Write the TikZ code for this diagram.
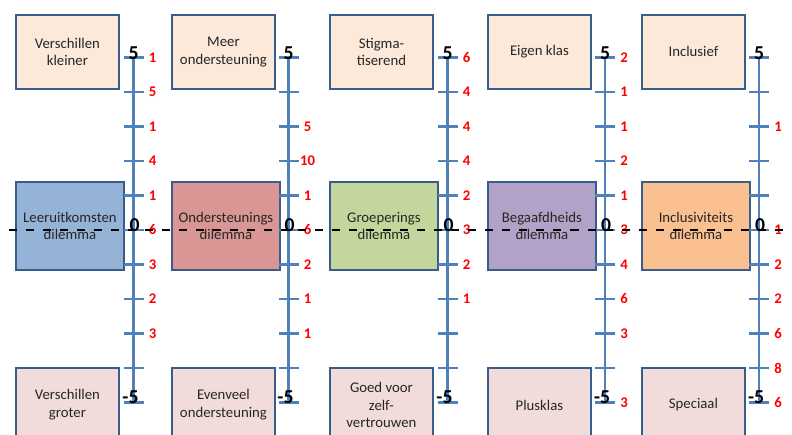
\documentclass[tikz,border=0pt]{standalone}
\usepackage{fontspec}
\setmainfont{Carlito}
\definecolor{boxline}{HTML}{385D8A}
\definecolor{axisblue}{HTML}{4F81BD}
\definecolor{peach}{HTML}{FDE9D9}
\definecolor{pinkish}{HTML}{F2DCDB}
\definecolor{dilblue}{HTML}{95B3D7}
\definecolor{dilred}{HTML}{D99694}
\definecolor{dilgreen}{HTML}{C3D69B}
\definecolor{dilpurple}{HTML}{B3A2C7}
\definecolor{dilorange}{HTML}{FAC090}
\tikzset{
  dilemmabox/.style={draw=boxline, line width=1.3pt, minimum width=2.7cm, minimum height=2.2cm,
    inner sep=0pt, align=center, anchor=north west, text=black!85,
    font=\fontsize{10.5}{12.5}\selectfont},
  topbox/.style={dilemmabox, fill=peach, minimum width=2.575cm, minimum height=1.85cm},
  bottombox/.style={dilemmabox, fill=pinkish, minimum width=2.575cm, minimum height=1.85cm},
  axisline/.style={draw=axisblue, line width=1.5pt},
  score/.style={text=red, inner sep=0pt, font=\fontsize{10.5}{12}\selectfont\bfseries},
  scalelabel/.style={inner sep=0pt, anchor=base, font=\fontsize{14}{15}\selectfont\bfseries},
  midline/.style={line width=1.9pt, dash pattern=on 5.7pt off 6.4pt, dash phase=5.7pt}
}
\begin{document}
\begin{tikzpicture}[x={(0.025cm,0)}, y={(0,-0.025cm)}]
  \useasboundingbox (0,0) rectangle (792,435);
  \clip (0,0) rectangle (792,435);

  % Drawing top boxes
  \node[topbox] (top1) at (15,14) {Verschillen\\kleiner};
  \node[topbox] (top2) at (171,14) {Meer\\ondersteuning};
  \node[topbox] (top3) at (329,14) {Stigma-\\tiserend};
  \node[topbox] (top4) at (487,14) {Eigen klas};
  \node[topbox] (top5) at (641,14) {Inclusief};

  % Drawing dilemma boxes
  \node[dilemmabox, fill=dilblue] (dil1) at (15,181) {Leeruitkomsten\\dilemma};
  \node[dilemmabox, fill=dilred] (dil2) at (171,181) {Ondersteunings\\dilemma};
  \node[dilemmabox, fill=dilgreen] (dil3) at (329,181) {Groeperings\\dilemma};
  \node[dilemmabox, fill=dilpurple] (dil4) at (487,181) {Begaafdheids\\dilemma};
  \node[dilemmabox, fill=dilorange] (dil5) at (641,181) {Inclusiviteits\\dilemma};

  % Drawing bottom boxes
  \node[bottombox] (bot1) at (15,367) {Verschillen\\groter};
  \node[bottombox] (bot2) at (171,367) {Evenveel\\ondersteuning};
  \node[bottombox] (bot3) at (329,367) {Goed voor\\zelf-\\vertrouwen};
  \node[bottombox] (bot4) at (487,367) {Plusklas};
  \node[bottombox] (bot5) at (641,367) {Speciaal};

  % Drawing axes with ticks and end labels
  \foreach \ax/\n in {133.5/1, 288.5/2, 447.5/3, 605/4, 759/5} {
    \draw[axisline] (\ax,57.5) -- (\ax,402.5);
    \foreach \t in {-5,...,5}
      \draw[axisline] ({\ax-10},{230-34.5*(\t)}) -- ({\ax+10},{230-34.5*(\t)});
    \node[scalelabel] (top\n label) at (\ax,59) {5};
    \node[scalelabel] (zero\n label) at ({\ax+1},231) {0};
    \node[scalelabel] (bot\n label) at ({\ax-3},403) {-5};
  }

  % Marking scores
  \foreach \t/\s in {5/1, 4/5, 3/1, 2/4, 1/1, 0/6, -1/3, -2/2, -3/3}
    \node[score] (sa\t) at (152.5,{230-34.5*(\t)}) {\s};
  \foreach \t/\s in {3/5, 2/10, 1/1, 0/6, -1/2, -2/1, -3/1}
    \node[score] (sb\t) at (307.5,{230-34.5*(\t)}) {\s};
  \foreach \t/\s in {5/6, 4/4, 3/4, 2/4, 1/2, 0/3, -1/2, -2/1}
    \node[score] (sc\t) at (466.5,{230-34.5*(\t)}) {\s};
  \foreach \t/\s in {5/2, 4/1, 3/1, 2/2, 1/1, 0/3, -1/4, -2/6, -3/3, -5/3}
    \node[score] (sd\t) at (624,{230-34.5*(\t)}) {\s};
  \foreach \t/\s in {3/1, 0/1, -1/2, -2/2, -3/6, -4/8, -5/6}
    \node[score] (se\t) at (778,{230-34.5*(\t)}) {\s};

  % Drawing zero line
  \coordinate (west) at (0,230);
  \coordinate (east) at (792,230);
  \draw[midline] (west) -- (east);
\end{tikzpicture}
\end{document}
